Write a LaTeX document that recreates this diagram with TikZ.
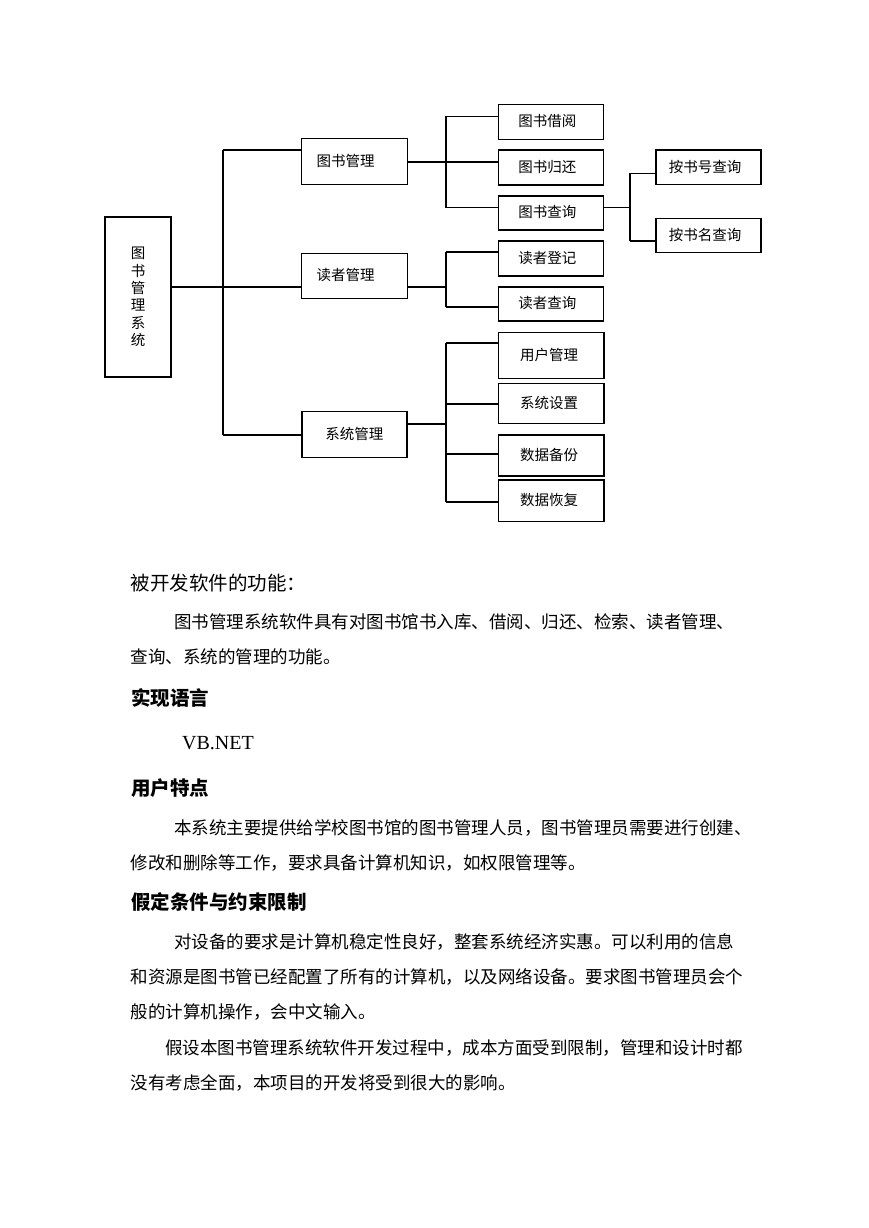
\documentclass[tikz,border=0pt]{standalone}
\usepackage{fontspec}
\newfontfamily\cjk{Noto Sans CJK SC}
\newfontfamily\latinserif{Liberation Serif}
\begin{document}
\begin{tikzpicture}[x=1pt,y=-1pt,
  box/.style={draw=black, line width=1.5pt, rectangle, inner sep=0pt,
    font=\cjk\fontsize{14.5pt}{14.5pt}\selectfont, text height=1.0em, text depth=0em},
  mainbox/.style={draw=black, line width=2.5pt, rectangle, inner sep=0pt,
    minimum width=66pt, minimum height=160pt, align=center,
    font=\cjk\fontsize{14.5pt}{17.3pt}\selectfont},
  thk/.style={line width=2pt},
  thn/.style={line width=1.1pt},
  body/.style={anchor=base west, inner sep=0pt, font=\cjk\fontsize{17.5pt}{17.5pt}\selectfont},
  title/.style={anchor=base west, inner sep=0pt, font=\cjk\fontsize{19.5pt}{19.5pt}\selectfont},
  head/.style={anchor=base west, inner sep=0pt, font=\cjk\bfseries\fontsize{19.5pt}{19.5pt}\selectfont},
]
\useasboundingbox[fill=white] (0,0) rectangle (869,1228);

% ---------- nodes ----------
\node[mainbox] (main) at (138,297) {图\\书\\管\\理\\系\\统};

\node[box, minimum width=105.6pt, minimum height=46pt] (b1) at (354.5,161.3) {图书管理\kern18pt};
\node[box, minimum width=105.6pt, minimum height=45pt] (b2) at (354.5,275.8) {读者管理\kern18pt};
\node[box, minimum width=105pt, minimum height=45.6pt] (b3) at (354.3,434.5) {系统管理};

\node[box, minimum width=105pt, minimum height=35pt]   (c1) at (550.8,121.8) {图书借阅\kern7pt};
\node[box, minimum width=105pt, minimum height=35pt]   (c2) at (550.8,167.5) {图书归还\kern7pt};
\node[box, minimum width=105pt, minimum height=34.3pt] (c3) at (550.8,212.9) {图书查询\kern7pt};
\node[box, minimum width=105pt, minimum height=34.3pt] (d1) at (708.5,167.2) {按书号查询\kern7pt};
\node[box, minimum width=105pt, minimum height=34pt]   (d2) at (708.5,235.3) {按书名查询\kern7pt};
\node[box, minimum width=105pt, minimum height=34.7pt] (c4) at (550.8,258.4) {读者登记\kern7pt};
\node[box, minimum width=105pt, minimum height=34.3pt] (c5) at (550.8,303.9) {读者查询\kern7pt};
\node[box, minimum width=105.7pt, minimum height=46pt] (c6) at (551.2,355.3) {用户管理\kern4pt};
\node[box, minimum width=105.7pt, minimum height=40pt] (c7) at (551.2,403.3) {系统设置\kern4pt};
\node[box, minimum width=105.7pt, minimum height=41pt] (c8) at (551.2,455.5) {数据备份\kern4pt};
\node[box, minimum width=105.7pt, minimum height=41.7pt] (c9) at (551.2,500.8) {数据恢复\kern4pt};

% ---------- junction coordinates ----------
\coordinate (t1) at (222.5,150);
\coordinate (t2) at (222.5,287);
\coordinate (t3) at (222.5,434.5);
\coordinate (v1a) at (446,116.5);
\coordinate (v1b) at (446,161.7);
\coordinate (v1c) at (446,207.5);
\coordinate (w1) at (630,173.3);
\coordinate (w2) at (630,207.5);
\coordinate (w3) at (630,241);
\coordinate (v2a) at (446,251.7);
\coordinate (v2b) at (446,287);
\coordinate (v2c) at (446,307);
\coordinate (v3a) at (446,342.7);
\coordinate (v3b) at (446,404);
\coordinate (v3m) at (446,424);
\coordinate (v3c) at (446,454);
\coordinate (v3d) at (446,501.7);

% ---------- connectors ----------
\draw[thk] (main.east |- t2) -- (t2) -- (b2.west |- t2);
\draw[thk] (t1) -- (t3);
\draw[thk] (t1) -- (b1.west |- t1);
\draw[thk] (t3) -- (b3.west |- t3);

\draw[thk] (b1.east |- v1b) -- (v1b) -- (c2.west |- v1b);
\draw[thn] (v1a) -- (v1c);
\draw[thn] (v1a) -- (c1.west |- v1a);
\draw[thn] (v1c) -- (c3.west |- v1c);

\draw[thn] (c3.east |- w2) -- (w2);
\draw[line width=1.5pt] (w1) -- (w3);
\draw[thn] (w1) -- (d1.west |- w1);
\draw[thn] (w3) -- (d2.west |- w3);

\draw[thk] (b2.east |- v2b) -- (v2b);
\draw[thn] (v2a) -- (v2c);
\draw[thk] (v2a) -- (c4.west |- v2a);
\draw[thn] (v2c) -- (c5.west |- v2c);

\draw[thn] (b3.east |- v3m) -- (v3m);
\draw[thk] (v3a) -- (v3d);
\draw[thk] (v3a) -- (c6.west |- v3a);
\draw[thk] (v3b) -- (c7.west |- v3b);
\draw[thk] (v3c) -- (c8.west |- v3c);
\draw[thk] (v3d) -- (c9.west |- v3d);

% ---------- text ----------
\node[title] (tx0) at (130.5,590.4) {被开发软件的功能：};
\node[body] (tx1) at (174,628.7) {图书管理系统软件具有对图书馆书入库、借阅、归还、检索、读者管理、};
\node[body] (tx2) at (130.5,663.2) {查询、系统的管理的功能。};
\node[head] (h1) at (131,705) {实现语言};
\node[anchor=base west, inner sep=0pt, font=\latinserif\fontsize{20pt}{20pt}\selectfont] (vb) at (182,749.5) {VB.NET};
\node[head] (h2) at (131,795.4) {用户特点};
\node[body] (tx3) at (174,834.7) {本系统主要提供给学校图书馆的图书管理人员，图书管理员需要进行创建、};
\node[body] (tx4) at (130.5,869.7) {修改和删除等工作，要求具备计算机知识，如权限管理等。};
\node[head] (h3) at (131,909.4) {假定条件与约束限制};
\node[body] (tx5) at (174,948.7) {对设备的要求是计算机稳定性良好，整套系统经济实惠。可以利用的信息};
\node[body] (tx6) at (130.5,983.7) {和资源是图书管已经配置了所有的计算机，以及网络设备。要求图书管理员会个};
\node[body] (tx7) at (130.5,1018.7) {般的计算机操作，会中文输入。};
\node[body] (tx8) at (165,1054.7) {假设本图书管理系统软件开发过程中，成本方面受到限制，管理和设计时都};
\node[body] (tx9) at (130.5,1089.7) {没有考虑全面，本项目的开发将受到很大的影响。};
\end{tikzpicture}
\end{document}
